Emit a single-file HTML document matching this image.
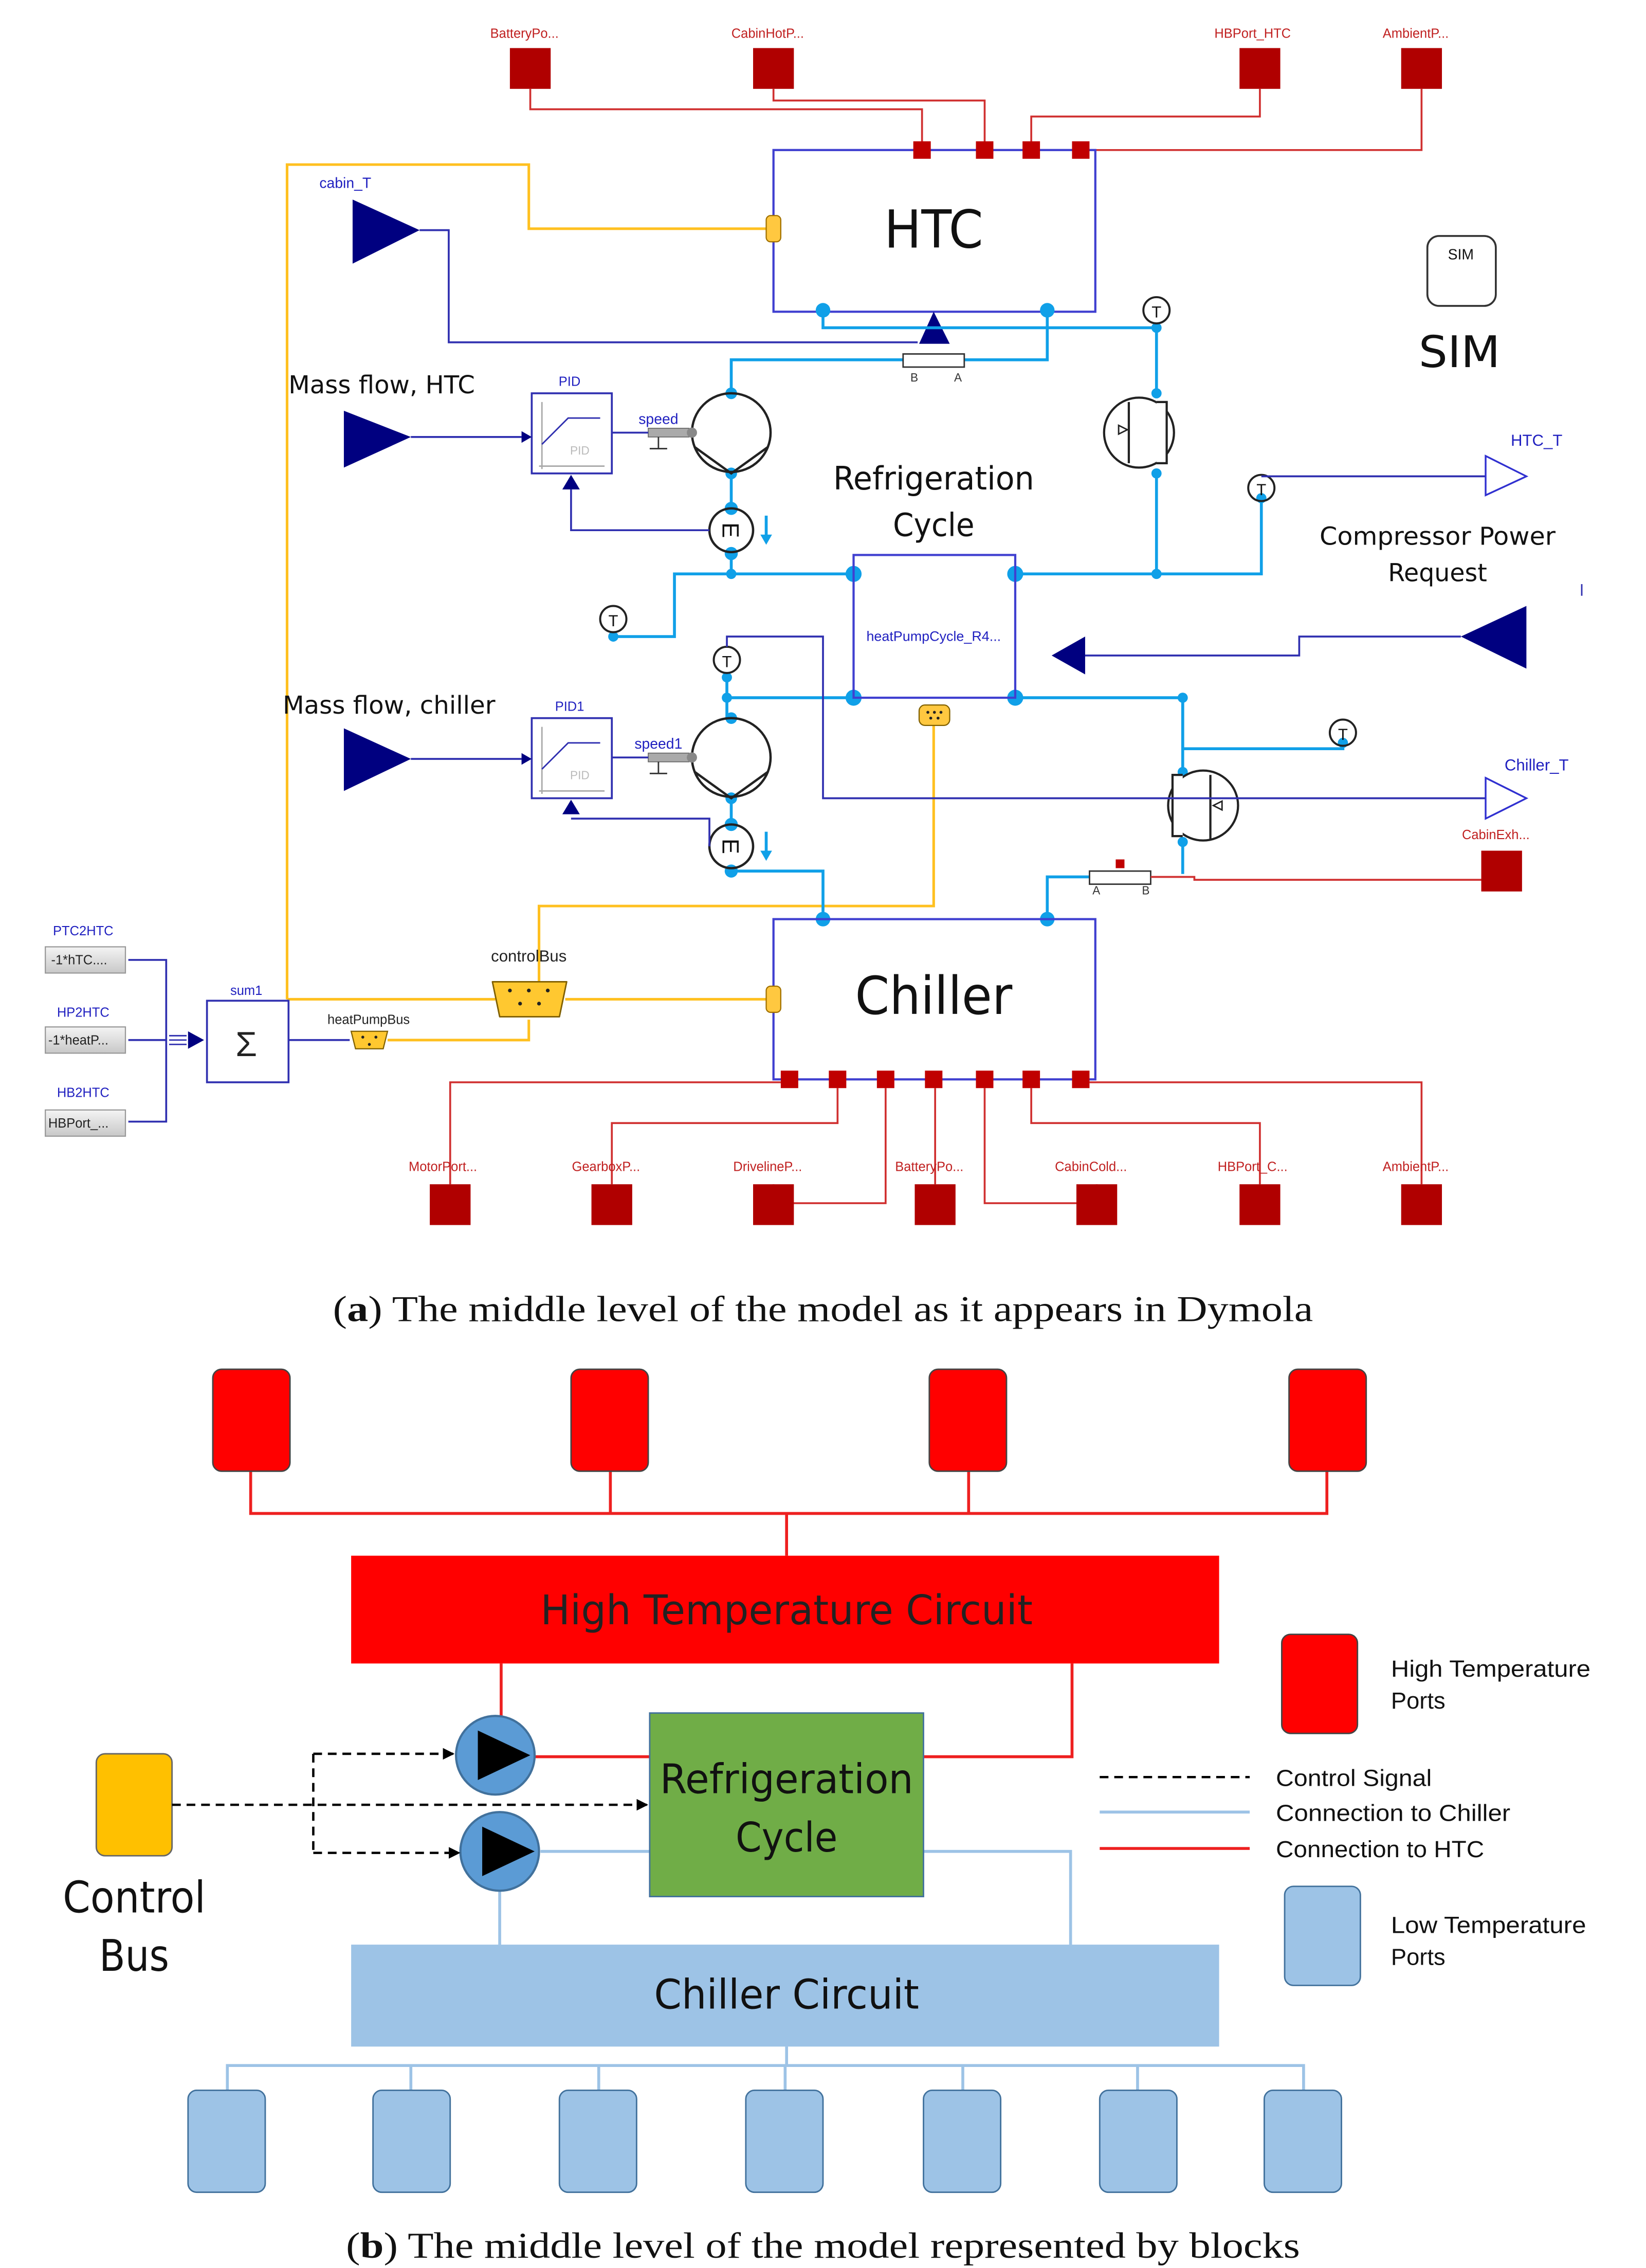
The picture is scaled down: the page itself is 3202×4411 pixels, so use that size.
<!DOCTYPE html>
<html><head><meta charset="utf-8"><style>
html,body{margin:0;padding:0;background:#fff;}
svg{display:block;}
text{font-family:"Liberation Sans",sans-serif;}
.ser{font-family:"Liberation Serif",serif;}
.dj{font-family:"DejaVu Sans","Liberation Sans",sans-serif;}
</style></head><body>
<svg width="3202" height="4411" viewBox="0 0 1130 1557" xmlns="http://www.w3.org/2000/svg">
<defs>
<marker id="ah" markerWidth="8" markerHeight="8" refX="7" refY="4" orient="auto" markerUnits="userSpaceOnUse"><path d="M0,0 L8,4 L0,8 z" fill="#000"/></marker>
<linearGradient id="gb" x1="0" y1="0" x2="0" y2="1"><stop offset="0" stop-color="#f4f4f4"/><stop offset="1" stop-color="#c8c8c8"/></linearGradient>
</defs>
<rect width="1130" height="1557" fill="#fff"/>

<g font-size="9" fill="#c02020" text-anchor="middle">
<text x="360" y="26">BatteryPo...</text><text x="527" y="26">CabinHotP...</text>
<text x="860" y="26">HBPort_HTC</text><text x="972" y="26">AmbientP...</text>
</g>
<g fill="#b00000">
<rect x="350" y="33" width="28" height="28"/><rect x="517" y="33" width="28" height="28"/>
<rect x="851" y="33" width="28" height="28"/><rect x="962" y="33" width="28" height="28"/>
</g>
<g fill="none" stroke="#d03030" stroke-width="1.3">
<path d="M364 61V75H633V98"/><path d="M531 61V69H676V98"/><path d="M865 61V80H708V98"/><path d="M976 61V103H748"/>
</g>
<g fill="none" stroke="#ffc020" stroke-width="1.8">
<path d="M197 686V113H363V157H527"/>
<path d="M197 686H340"/><path d="M388 686H527"/>
<path d="M370 674V622H641V498"/>
<path d="M266 714H363V700"/>
</g>
<rect x="531" y="103" width="221" height="111" fill="none" stroke="#4040d0" stroke-width="1.5"/>
<text x="641" y="170" font-size="36" text-anchor="middle" class="dj" fill="#111" textLength="68" lengthAdjust="spacingAndGlyphs">HTC</text>
<g fill="#c00000"><rect x="627" y="97" width="12" height="12"/><rect x="670" y="97" width="12" height="12"/><rect x="702" y="97" width="12" height="12"/><rect x="736" y="97" width="12" height="12"/></g>
<rect x="526" y="148" width="10" height="18" rx="3" fill="#ffc840" stroke="#a07000" stroke-width="0.8"/>
<text x="237" y="129" font-size="10" fill="#2020c0" text-anchor="middle">cabin_T</text>
<polygon points="242,137 288,158 242,181" fill="#000080"/>
<path d="M288 158H308V235H630" fill="none" stroke="#3030b0" stroke-width="1.3"/>
<polygon points="631,236 641,214 652,236" fill="#000080"/>
<g fill="none" stroke="#10a0e8" stroke-width="2">
<path d="M565 213V225H794"/>
<path d="M719 213V247H660"/><path d="M620 247H502V270"/>
<path d="M794 222V270"/><path d="M794 325V394"/>
<path d="M502 325V349"/><path d="M502 380V394"/>
<path d="M421 437H463V394H586"/>
<path d="M697 394H866V342"/>
<path d="M499 465V493"/><path d="M499 479H586"/>
<path d="M502 548V566"/><path d="M502 598H565V631"/>
<path d="M697 479H812V514H922V510"/>
<path d="M812 479V530"/><path d="M812 578V600"/>
<path d="M748 602H719V631"/>
</g>
<g fill="#10a0e8">
<circle cx="565" cy="213" r="5"/><circle cx="719" cy="213" r="5"/>
<circle cx="586" cy="394" r="5.5"/><circle cx="697" cy="394" r="5.5"/>
<circle cx="586" cy="479" r="5.5"/><circle cx="697" cy="479" r="5.5"/>
<circle cx="565" cy="631" r="5"/><circle cx="719" cy="631" r="5"/>
<circle cx="502" cy="270" r="4"/><circle cx="502" cy="325" r="4"/><circle cx="502" cy="349" r="4.5"/><circle cx="502" cy="380" r="4.5"/><circle cx="502" cy="394" r="3.5"/>
<circle cx="502" cy="493" r="4"/><circle cx="502" cy="548" r="4"/><circle cx="502" cy="566" r="4.5"/><circle cx="502" cy="598" r="4.5"/><circle cx="499" cy="479" r="3.5"/>
<circle cx="794" cy="225" r="3.5"/><circle cx="794" cy="270" r="3.5"/><circle cx="794" cy="325" r="3.5"/><circle cx="794" cy="394" r="3.5"/>
<circle cx="812" cy="479" r="3.5"/><circle cx="812" cy="530" r="3.5"/><circle cx="812" cy="578" r="3.5"/>
<circle cx="866" cy="342" r="3.5"/><circle cx="922" cy="510" r="3.5"/><circle cx="421" cy="437" r="3.5"/><circle cx="499" cy="465" r="3.5"/>
</g>
<rect x="620" y="243" width="42" height="9" fill="#fff" stroke="#333" stroke-width="1"/>
<text x="625" y="262" font-size="8" fill="#333">B</text><text x="655" y="262" font-size="8" fill="#333">A</text>
<rect x="748" y="598" width="42" height="9" fill="#fff" stroke="#333" stroke-width="1"/>
<text x="750" y="614" font-size="8" fill="#333">A</text><text x="784" y="614" font-size="8" fill="#333">B</text>
<rect x="766" y="590" width="6" height="6" fill="#c00000"/>
<path d="M790 602H820V604H1017" fill="none" stroke="#d03030" stroke-width="1.3"/>
<rect x="1017" y="584" width="28" height="28" fill="#b00000"/>
<text x="1027" y="576" font-size="9" fill="#c02020" text-anchor="middle">CabinExh...</text>
<g fill="none" stroke="#222" stroke-width="1.6">
<circle cx="502" cy="297" r="27"/><path d="M477 307L502 325L527 307"/>
<circle cx="502" cy="520" r="27"/><path d="M477 530L502 548L527 530"/>
<circle cx="502" cy="364" r="15"/><circle cx="502" cy="581" r="15"/>
</g>
<text x="502" y="370" font-size="16" text-anchor="middle" fill="#111" transform="rotate(90 502 364)">E</text>
<text x="502" y="587" font-size="16" text-anchor="middle" fill="#111" transform="rotate(90 502 581)">E</text>
<g stroke="#10a0e8" stroke-width="2" fill="#10a0e8"><path d="M526 354V369"/><polygon points="522,367 530,367 526,374" stroke="none"/><path d="M526 571V586"/><polygon points="522,584 530,584 526,591" stroke="none"/></g>
<g><rect x="445" y="294" width="28" height="6" fill="#aaa" stroke="#666" stroke-width="0.6"/><circle cx="475" cy="297" r="3.5" fill="#888"/>
<path d="M452 300V308M446 308H458" stroke="#333" stroke-width="1"/>
<rect x="445" y="517" width="28" height="6" fill="#aaa" stroke="#666" stroke-width="0.6"/><circle cx="475" cy="520" r="3.5" fill="#888"/>
<path d="M452 523V531M446 531H458" stroke="#333" stroke-width="1"/></g>
<text x="452" y="291" font-size="10" fill="#2020c0" text-anchor="middle">speed</text>
<text x="452" y="514" font-size="10" fill="#2020c0" text-anchor="middle">speed1</text>
<g fill="none" stroke="#3030b0" stroke-width="1.3">
<rect x="365" y="270" width="55" height="55" fill="#fff"/><rect x="365" y="493" width="55" height="55" fill="#fff"/>
<path d="M282 300H358"/><path d="M282 521H358"/><path d="M420 297H445"/><path d="M420 520H445"/>
<path d="M487 364H392V336"/><path d="M392 562H487V581"/>
<path d="M88 659H114V770H88"/><path d="M88 714H114"/><path d="M198 714H240"/>
</g>
<g fill="none" stroke="#aaa" stroke-width="1"><path d="M370 320H415M372 276V322"/><path d="M370 543H415M372 499V545"/></g>
<g fill="none" stroke="#3030b0" stroke-width="1"><path d="M372 305L390 287H412"/><path d="M372 528L390 510H412"/></g>
<text x="398" y="312" font-size="8" fill="#bbb" text-anchor="middle">PID</text><text x="398" y="535" font-size="8" fill="#bbb" text-anchor="middle">PID</text>
<text x="391" y="265" font-size="9" fill="#2020c0" text-anchor="middle">PID</text><text x="391" y="488" font-size="9" fill="#2020c0" text-anchor="middle">PID1</text>
<g fill="#000080"><polygon points="358,296 365,300 358,304"/><polygon points="358,517 365,521 358,525"/><polygon points="386,336 392,326 398,336"/><polygon points="386,559 392,549 398,559"/></g>
<polygon points="236,282 282,300 236,321" fill="#000080"/>
<polygon points="236,500 282,521 236,543" fill="#000080"/>
<text x="262" y="270" font-size="17" text-anchor="middle" class="dj" fill="#111" textLength="128" lengthAdjust="spacingAndGlyphs">Mass flow, HTC</text>
<text x="267" y="490" font-size="17" text-anchor="middle" class="dj" fill="#111" textLength="146" lengthAdjust="spacingAndGlyphs">Mass flow, chiller</text>
<!-- motors -->
<g fill="#fff" stroke="#222" stroke-width="1.5">
<circle cx="782" cy="297" r="24"/>
<path d="M794 276H801V318H794" />
<path d="M775 276V318" fill="none"/>
<circle cx="826" cy="553" r="24"/>
<path d="M812 532H805V574H812"/>
<path d="M831 532V576" fill="none"/>
</g>
<g fill="none" stroke="#222" stroke-width="1"><polygon points="768,292 774,295 768,298"/><polygon points="839,550 833,553 839,556"/></g>
<g fill="none" stroke="#222" stroke-width="1.4">
<circle cx="794" cy="213" r="9"/><circle cx="866" cy="335" r="9"/><circle cx="421" cy="425" r="9"/><circle cx="499" cy="453" r="9"/><circle cx="922" cy="503" r="9"/>
</g>
<g font-size="11" fill="#111" text-anchor="middle"><text x="794" y="218">T</text><text x="866" y="340">T</text><text x="421" y="430">T</text><text x="499" y="458">T</text><text x="922" y="508">T</text></g>
<text x="641" y="336" font-size="22" text-anchor="middle" class="dj" fill="#111" textLength="138" lengthAdjust="spacingAndGlyphs">Refrigeration</text>
<text x="641" y="368" font-size="22" text-anchor="middle" class="dj" fill="#111" textLength="56" lengthAdjust="spacingAndGlyphs">Cycle</text>
<rect x="586" y="381" width="111" height="98" fill="none" stroke="#4040d0" stroke-width="1.5"/>
<text x="641" y="440" font-size="9.5" fill="#2020c0" text-anchor="middle">heatPumpCycle_R4...</text>
<rect x="631" y="484" width="21" height="14" rx="4" fill="#ffc840" stroke="#806000" stroke-width="0.8"/>
<g fill="#222"><circle cx="637" cy="489" r="1"/><circle cx="641.5" cy="489" r="1"/><circle cx="646" cy="489" r="1"/><circle cx="639" cy="493" r="1"/><circle cx="644" cy="493" r="1"/></g>
<g fill="none" stroke="#3030b0" stroke-width="1.3">
<path d="M866 327H1020"/><path d="M1003 437H892V450H745"/><path d="M499 444V437H565V548H1020"/>
</g>
<polygon points="1020,313 1048,327 1020,340" fill="#fff" stroke="#3030d0" stroke-width="1.2"/>
<polygon points="1020,534 1048,548 1020,562" fill="#fff" stroke="#3030d0" stroke-width="1.2"/>
<text x="1055" y="306" font-size="11" fill="#2020c0" text-anchor="middle">HTC_T</text>
<text x="1055" y="529" font-size="11" fill="#2020c0" text-anchor="middle">Chiller_T</text>
<polygon points="1048,416 1048,459 1003,437" fill="#000080"/>
<polygon points="722,450 745,437 745,463" fill="#000080"/>
<path d="M1086 401V409" stroke="#3030b0"/>
<text x="987" y="374" font-size="17" text-anchor="middle" class="dj" fill="#111" textLength="162" lengthAdjust="spacingAndGlyphs">Compressor Power</text>
<text x="987" y="399" font-size="17" text-anchor="middle" class="dj" fill="#111" textLength="68" lengthAdjust="spacingAndGlyphs">Request</text>
<rect x="980" y="162" width="47" height="48" rx="8" fill="#fff" stroke="#333" stroke-width="1.3"/>
<text x="1003" y="178" font-size="10" text-anchor="middle" fill="#111">SIM</text>
<text x="1002" y="252" font-size="30" text-anchor="middle" class="dj" fill="#111" textLength="56" lengthAdjust="spacingAndGlyphs">SIM</text>
<rect x="531" y="631" width="221" height="110" fill="none" stroke="#4040d0" stroke-width="1.5"/>
<text x="641" y="696" font-size="36" text-anchor="middle" class="dj" fill="#111" textLength="108" lengthAdjust="spacingAndGlyphs">Chiller</text>
<rect x="526" y="677" width="10" height="18" rx="3" fill="#ffc840" stroke="#a07000" stroke-width="0.8"/>
<g fill="none" stroke="#d03030" stroke-width="1.3">
<path d="M309 813V743H536"/><path d="M420 813V771H575V747"/><path d="M531 813V826H608V747"/><path d="M642 813V747"/>
<path d="M753 813V826H676V747"/><path d="M865 813V771H708V747"/><path d="M976 813V743H748"/>
</g>
<g fill="#c00000"><rect x="536" y="735" width="12" height="12"/><rect x="569" y="735" width="12" height="12"/><rect x="602" y="735" width="12" height="12"/><rect x="635" y="735" width="12" height="12"/><rect x="670" y="735" width="12" height="12"/><rect x="702" y="735" width="12" height="12"/><rect x="736" y="735" width="12" height="12"/></g>
<g fill="#b00000"><rect x="295" y="813" width="28" height="28"/><rect x="406" y="813" width="28" height="28"/><rect x="517" y="813" width="28" height="28"/><rect x="628" y="813" width="28" height="28"/><rect x="739" y="813" width="28" height="28"/><rect x="851" y="813" width="28" height="28"/><rect x="962" y="813" width="28" height="28"/></g>
<g font-size="9" fill="#c02020" text-anchor="middle">
<text x="304" y="804">MotorPort...</text><text x="416" y="804">GearboxP...</text><text x="527" y="804">DrivelineP...</text><text x="638" y="804">BatteryPo...</text><text x="749" y="804">CabinCold...</text><text x="860" y="804">HBPort_C...</text><text x="972" y="804">AmbientP...</text>
</g>
<g font-size="9" fill="#2020c0" text-anchor="middle"><text x="57" y="642">PTC2HTC</text><text x="57" y="698">HP2HTC</text><text x="57" y="753">HB2HTC</text></g>
<g fill="url(#gb)" stroke="#999" stroke-width="0.8"><rect x="31" y="650" width="55" height="18"/><rect x="31" y="705" width="55" height="18"/><rect x="31" y="762" width="55" height="18"/></g>
<g font-size="9" fill="#222"><text x="35" y="662">-1*hTC....</text><text x="33" y="717">-1*heatP...</text><text x="33" y="774">HBPort_...</text></g>
<g fill="#000080"><polygon points="129,708 140,714 129,720"/></g>
<path d="M116 711H128M116 714H128M116 717H128" stroke="#3030b0" stroke-width="1"/>
<rect x="142" y="687" width="56" height="56" fill="#fff" stroke="#3030b0" stroke-width="1.3"/>
<text x="169" y="725" font-size="24" text-anchor="middle" fill="#222">Σ</text>
<text x="169" y="683" font-size="9" fill="#2020c0" text-anchor="middle">sum1</text>
<text x="253" y="703" font-size="9" fill="#222" text-anchor="middle">heatPumpBus</text>
<path d="M241 708H266L263 720H244Z" fill="#ffc830" stroke="#806000" stroke-width="0.8"/>
<circle cx="249" cy="712" r="1" fill="#222"/><circle cx="258" cy="712" r="1" fill="#222"/><circle cx="253.5" cy="717" r="1" fill="#222"/>
<text x="363" y="660" font-size="11" fill="#222" text-anchor="middle">controlBus</text>
<path d="M338 674H389L384 698H343Z" fill="#ffc830" stroke="#806000" stroke-width="1" stroke-linejoin="round"/>
<g fill="#222"><circle cx="350" cy="680" r="1.3"/><circle cx="363" cy="680" r="1.3"/><circle cx="376" cy="680" r="1.3"/><circle cx="357" cy="689" r="1.3"/><circle cx="370" cy="689" r="1.3"/></g>

<text x="565" y="907" font-size="25" text-anchor="middle" class="ser" fill="#111" textLength="673" lengthAdjust="spacingAndGlyphs">(<tspan font-weight="bold">a</tspan>) The middle level of the model as it appears in Dymola</text>

<g fill="none" stroke="#ee2020" stroke-width="2">
<path d="M172 1010V1039H911V1010M419 1010V1039M665 1010V1039M540 1039V1068"/>
<path d="M344 1142V1178"/><path d="M736 1142V1206H634"/><path d="M367 1206H446"/>
</g>
<g fill="#ff0000" stroke="#444" stroke-width="1">
<rect x="146" y="940" width="53" height="70" rx="6"/><rect x="392" y="940" width="53" height="70" rx="6"/><rect x="638" y="940" width="53" height="70" rx="6"/><rect x="885" y="940" width="53" height="70" rx="6"/>
</g>
<rect x="241" y="1068" width="596" height="74" fill="#ff0000"/>
<text x="540" y="1115" font-size="28" text-anchor="middle" class="dj" fill="#222" textLength="338" lengthAdjust="spacingAndGlyphs">High Temperature Circuit</text>
<g fill="none" stroke="#9dc3e6" stroke-width="2">
<path d="M371 1271H446"/><path d="M634 1271H735V1335"/><path d="M343 1298V1335"/>
<path d="M540 1405V1418M156 1435V1418H895V1435M282 1418V1435M411 1418V1435M539 1418V1435M661 1418V1435M781 1418V1435"/>
</g>
<rect x="446" y="1176" width="188" height="126" fill="#70ad47" stroke="#41719c" stroke-width="1"/>
<text x="540" y="1231" font-size="28" text-anchor="middle" class="dj" fill="#111" textLength="174" lengthAdjust="spacingAndGlyphs">Refrigeration</text>
<text x="540" y="1271" font-size="28" text-anchor="middle" class="dj" fill="#111" textLength="70" lengthAdjust="spacingAndGlyphs">Cycle</text>
<rect x="241" y="1335" width="596" height="70" fill="#9dc3e6"/>
<text x="540" y="1379" font-size="28" text-anchor="middle" class="dj" fill="#111" textLength="182" lengthAdjust="spacingAndGlyphs">Chiller Circuit</text>
<g fill="#9dc3e6" stroke="#41719c" stroke-width="1">
<rect x="129" y="1435" width="53" height="70" rx="6"/><rect x="256" y="1435" width="53" height="70" rx="6"/><rect x="384" y="1435" width="53" height="70" rx="6"/><rect x="512" y="1435" width="53" height="70" rx="6"/><rect x="634" y="1435" width="53" height="70" rx="6"/><rect x="755" y="1435" width="53" height="70" rx="6"/><rect x="868" y="1435" width="53" height="70" rx="6"/>
</g>
<g stroke="#41719c" stroke-width="1.5" fill="#5b9bd5"><circle cx="340" cy="1205" r="27"/><circle cx="343" cy="1271" r="27"/></g>
<g fill="#000"><polygon points="328,1188 364,1205 328,1222"/><polygon points="331,1254 367,1271 331,1288"/></g>
<rect x="66" y="1204" width="52" height="70" rx="6" fill="#ffc000" stroke="#666" stroke-width="1"/>
<text x="92" y="1313" font-size="30" text-anchor="middle" class="dj" fill="#111" textLength="98" lengthAdjust="spacingAndGlyphs">Control</text>
<text x="92" y="1353" font-size="30" text-anchor="middle" class="dj" fill="#111" textLength="48" lengthAdjust="spacingAndGlyphs">Bus</text>
<g fill="none" stroke="#000" stroke-width="1.6" stroke-dasharray="6,4">
<path d="M118 1239H444" marker-end="url(#ah)"/>
<path d="M215 1204V1272"/>
<path d="M215 1204H311" marker-end="url(#ah)"/>
<path d="M215 1272H315" marker-end="url(#ah)"/>
</g>
<rect x="880" y="1122" width="52" height="68" rx="6" fill="#ff0000" stroke="#444" stroke-width="1"/>
<g font-size="16" class="dj" fill="#111">
<text x="955" y="1151" textLength="137" lengthAdjust="spacingAndGlyphs">High Temperature</text><text x="955" y="1173">Ports</text>
<text x="876" y="1226" textLength="107" lengthAdjust="spacingAndGlyphs">Control Signal</text><text x="876" y="1250" textLength="161" lengthAdjust="spacingAndGlyphs">Connection to Chiller</text><text x="876" y="1275" textLength="143" lengthAdjust="spacingAndGlyphs">Connection to HTC</text>
<text x="955" y="1327" textLength="134" lengthAdjust="spacingAndGlyphs">Low Temperature</text><text x="955" y="1349">Ports</text>
</g>
<path d="M755 1220H858" stroke="#000" stroke-width="1.6" stroke-dasharray="6,4"/>
<path d="M755 1244H858" stroke="#9dc3e6" stroke-width="2"/>
<path d="M755 1269H858" stroke="#ee2020" stroke-width="2"/>
<rect x="882" y="1295" width="52" height="68" rx="6" fill="#9dc3e6" stroke="#41719c" stroke-width="1"/>

<text x="565" y="1550" font-size="25" text-anchor="middle" class="ser" fill="#111" textLength="655" lengthAdjust="spacingAndGlyphs">(<tspan font-weight="bold">b</tspan>) The middle level of the model represented by blocks</text>
</svg>
</body></html>
